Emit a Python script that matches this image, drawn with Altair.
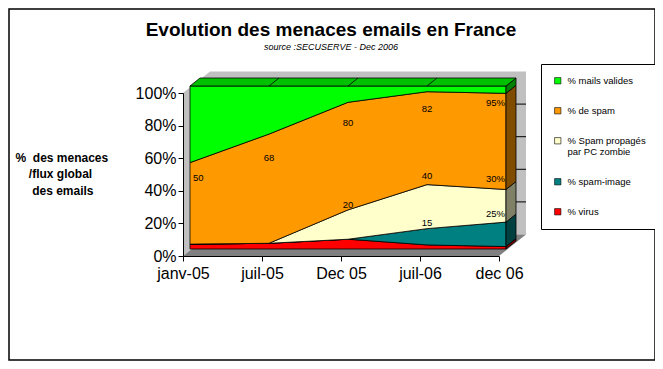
import json
import altair as alt
import pandas as pd

# ---------------- data ----------------
categories = ["janv-05", "juil-05", "Dec 05", "juil-06", "dec 06"]
series_names = ["% virus", "% spam-image", "% Spam propagés par PC zombie", "% de spam", "% mails valides"]
virus = [3, 3.5, 6, 2.5, 1.5]
spam_image = [0, 0, 0, 10, 15]
spam_zombie = [0, 0, 18, 27, 20]
spam = [50, 67, 66, 57, 59]
valid = [47, 29.5, 10, 3.5, 4.5]

label_text = ["50", "68", "80", "82", "95%", "20", "40", "30%", "15", "25%"]
label_cat = [0, 1, 2, 3, 4, 2, 3, 4, 3, 4]
label_val = [43.5, 55.7, 77, 85.7, 89.4, 27, 44.7, 42.9, 16, 21.4]
y_ticks = [0, 20, 40, 60, 80, 100]

# ---------------- styles ----------------
front_colors = ["#FF0000", "#008080", "#FFFFCC", "#FF9900", "#00FF00"]
side_colors = ["#800000", "#004040", "#808066", "#804C00", "#008000"]
top_color = "#00C000"
wall_color = "#C0C0C0"
floor_color = "#808080"
FONT = "Liberation Sans"

W, H = 316, 163
n = len(categories)
PX = W / (n - 1)          # px per category step
PY = H / 100.0            # px per percent
FX, FY = 7, 7             # pixel offset of the series front face
DX, DY = 10 / PX, 8 / PY  # series depth (data units)
WXP, WYP = 27, 21.5       # pixel offset of the back wall
WX, WY = WXP / PX, WYP / PY

# ---------------- derived tables ----------------
values = [virus, spam_image, spam_zombie, spam, valid]
rows, side_rows = [], []
cum = [0.0] * n
for name, vals in zip(series_names, values):
    for j in range(n):
        rows.append(dict(series=name, x=j, lo=cum[j], hi=cum[j] + vals[j]))
    last = n - 1
    lo, hi = cum[last], cum[last] + vals[last]
    side_rows.append(dict(series=name, x=last, lo=lo, hi=hi))
    side_rows.append(dict(series=name, x=last + DX, lo=lo + DY, hi=hi + DY))
    cum = [c + v for c, v in zip(cum, vals)]
df = pd.DataFrame(rows)
df_side = pd.DataFrame(side_rows)

T = cum[0]
df_top = pd.DataFrame([
    dict(x=0, lo=T, hi=T),
    dict(x=DX, lo=T, hi=T + DY),
    dict(x=n - 1, lo=T, hi=T + DY),
    dict(x=n - 1 + DX, lo=T + DY, hi=T + DY),
])
df_diag = pd.DataFrame([dict(x=j, x2=j + DX, y=cum[j], y2=cum[j] + DY) for j in range(1, n - 1)])

df_wall = pd.DataFrame([dict(x=0, x2=n - 1, y=0, y2=100)])
df_grid = pd.DataFrame([dict(x=0, x2=n - 1, y=v) for v in y_ticks[1:-1]])
df_lwall = pd.DataFrame([dict(x=0, lo=0, hi=100), dict(x=WX, lo=WY, hi=100 + WY)])
df_floor = pd.DataFrame([
    dict(x=0, lo=0, hi=0),
    dict(x=WX, lo=0, hi=WY),
    dict(x=n - 1, lo=0, hi=WY),
    dict(x=n - 1 + WX, lo=WY, hi=WY),
])
df_lab = pd.DataFrame(dict(text=label_text, x=label_cat, y=label_val))

legend_order = series_names[::-1]
legend_colors = front_colors[::-1]
legend_side = side_colors[::-1]

xscale = alt.Scale(domain=[0, n - 1], nice=False, zero=False)
yscale = alt.Scale(domain=[0, 100], nice=False)

ZW = "\u200b"
NB = "\u00a0"
cat_js = json.dumps(categories)
xaxis = alt.Axis(values=list(range(n)), labelExpr=f"{cat_js}[datum.value]", grid=False,
                 domainColor="black", tickColor="black", tickSize=5, labelFontSize=16,
                 labelFont=FONT, labelColor="black", labelPadding=4, title=None, zindex=1,
                 labelFlush=False, labelOverlap=False)
yaxis = alt.Axis(values=y_ticks, labelExpr="datum.value + '%'", grid=False,
                 domainColor="black", tickColor="black", tickSize=5, labelFontSize=16,
                 labelFont=FONT, labelColor="black", labelPadding=2, zindex=1,
                 title=["%" + NB * 2 + "des menaces",
                        ZW + NB * 4 + "/flux global",
                        ZW + NB * 5 + "des emails"],
                 titleAngle=0, titleAlign="left", titleBaseline="alphabetic",
                 titleX=-168, titleY=68, titleFont=FONT, titleFontSize=12,
                 titleFontWeight="bold", titleLineHeight=16.5, titleColor="black")


def X(f="x"):
    return alt.X(f"{f}:Q", scale=xscale, axis=xaxis)


def Y(f):
    return alt.Y(f"{f}:Q", scale=yscale, axis=yaxis)


wall = alt.Chart(df_wall).mark_rect(color=wall_color, xOffset=WXP, x2Offset=WXP,
                                    yOffset=-WYP, y2Offset=-WYP).encode(
    x=X(), x2="x2:Q", y=Y("y"), y2="y2:Q")
grid = alt.Chart(df_grid).mark_rule(color="black", strokeWidth=1, xOffset=WXP, x2Offset=WXP,
                                    yOffset=-WYP).encode(x=X(), x2="x2:Q", y=Y("y"))
lwall = alt.Chart(df_lwall).mark_area(color=wall_color).encode(x=X(), y=Y("hi"), y2="lo:Q")
floor = alt.Chart(df_floor).mark_area(color=floor_color).encode(x=X(), y=Y("hi"), y2="lo:Q")

front = alt.Chart(df).mark_area(stroke="black", strokeWidth=0.8, xOffset=FX, yOffset=-FY,
                                y2Offset=-FY).encode(
    x=X(), y=Y("hi"), y2="lo:Q",
    color=alt.Color("series:N", scale=alt.Scale(domain=legend_order, range=legend_colors),
                    legend=alt.Legend(
                        orient="none", legendX=358, legendY=-29, title=None,
                        symbolType="square", symbolSize=40, symbolStrokeColor="black",
                        symbolStrokeWidth=0.6, labelFontSize=9.5, labelFont=FONT,
                        labelColor="black", labelLimit=300, labelOffset=5,
                        rowPadding=19, padding=12, strokeColor="black", fillColor="white",
                        labelExpr="indexof(datum.label, 'zombie') > 0 ? ['% Spam propagés', 'par PC zombie'] : datum.label",
                    )),
)
side = alt.Chart(df_side).mark_area(stroke="black", strokeWidth=0.8, xOffset=FX, yOffset=-FY,
                                    y2Offset=-FY).encode(
    x=X(), y=Y("hi"), y2="lo:Q",
    fill=alt.Fill("series:N", scale=alt.Scale(domain=legend_order, range=legend_side), legend=None),
)
top = alt.Chart(df_top).mark_area(color=top_color, stroke="black", strokeWidth=0.8, xOffset=FX,
                                  yOffset=-FY, y2Offset=-FY).encode(x=X(), y=Y("hi"), y2="lo:Q")
diag = alt.Chart(df_diag).mark_rule(color="black", strokeWidth=0.8, xOffset=FX, x2Offset=FX,
                                    yOffset=-FY, y2Offset=-FY).encode(
    x=X(), x2="x2:Q", y=Y("y"), y2="y2:Q")

tbase = dict(font=FONT, fontSize=9.5, color="black", baseline="middle", xOffset=FX, yOffset=-FY)
lab_first = alt.Chart(df_lab).transform_filter(alt.datum.x == 0).mark_text(
    align="left", dx=3, **tbase).encode(x=X(), y=Y("y"), text="text:N")
lab_mid = alt.Chart(df_lab).transform_filter((alt.datum.x > 0) & (alt.datum.x < n - 1)).mark_text(
    align="center", **tbase).encode(x=X(), y=Y("y"), text="text:N")
lab_last = alt.Chart(df_lab).transform_filter(alt.datum.x == n - 1).mark_text(
    align="right", dx=-1, **tbase).encode(x=X(), y=Y("y"), text="text:N")

border = alt.Chart(pd.DataFrame({"a": [0]})).mark_rect(
    fill="transparent", stroke="black", strokeWidth=1.5).encode(
    x=alt.value(-174), x2=alt.value(472), y=alt.value(-84), y2=alt.value(267))

chart = alt.layer(
    wall, grid, lwall, floor, front, side, top, diag, lab_first, lab_mid, lab_last, border
).properties(
    width=W, height=H,
    padding={"left": 175, "top": 85, "right": 156, "bottom": 105},
    autosize=alt.AutoSizeParams(type="none"),
    title=alt.TitleParams(
        text="Evolution des menaces emails en France",
        subtitle="source :SECUSERVE - Dec 2006",
        anchor="middle", frame="group", dx=-10, offset=0, dy=44,
        font=FONT, fontSize=19, fontWeight="bold", color="black",
        subtitleFont=FONT, subtitleFontSize=9, subtitleFontStyle="italic",
        subtitleColor="black", subtitlePadding=3,
    ),
).configure_view(stroke=None)

chart.save("out.html", embed_options={"renderer": "svg", "actions": False})
